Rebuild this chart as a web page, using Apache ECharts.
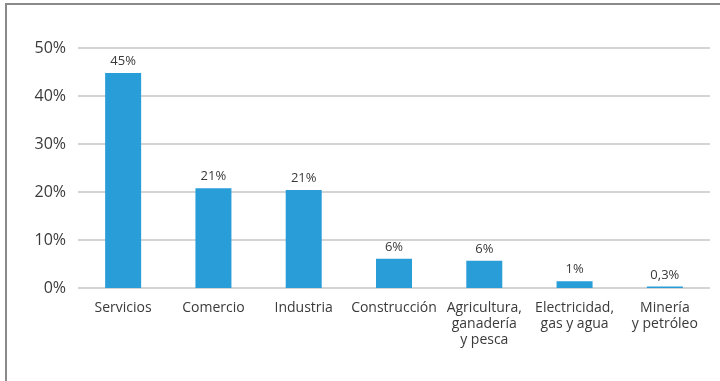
<!DOCTYPE html>
<html>
<head>
<meta charset="utf-8">
<script src="https://cdn.jsdelivr.net/npm/echarts@6/dist/echarts.min.js"></script>
<style>
  html, body { margin: 0; padding: 0; background: #fff; }
  #chart { width: 720px; height: 381px; }
</style>
</head>
<body>
<div id="chart"></div>
<script>
// sectores
var categories = ['Servicios', 'Comercio', 'Industria', 'Construcción',
  'Agricultura,\nganadería\ny pesca', 'Electricidad,\ngas y agua', 'Minería\ny petróleo'];
// valores (%)
var values = [44.8, 20.8, 20.4, 6.1, 5.7, 1.4, 0.3];
// etiquetas de cada barra
var valueLabels = ['45%', '21%', '21%', '6%', '6%', '1%', '0,3%'];
var yTicks = [0, 10, 20, 30, 40, 50];

var font = '"Open Sans", "DejaVu Sans", sans-serif';
var chart = echarts.init(document.getElementById('chart'));

chart.setOption({
  animation: false,
  backgroundColor: '#fff',
  grid: { left: 78, right: 10, top: 48, bottom: 93 },
  graphic: [
    { type: 'line', shape: { x1: 5, y1: 4, x2: 720, y2: 4 }, style: { stroke: '#8a8a8a', lineWidth: 2 } },
    { type: 'line', shape: { x1: 6, y1: 4, x2: 6, y2: 381 }, style: { stroke: '#8a8a8a', lineWidth: 2 } }
  ],
  xAxis: {
    type: 'category',
    data: categories,
    axisLine: { show: false },
    axisTick: { show: false },
    axisLabel: { color: '#3a3a3a', fontFamily: font, fontSize: 14, lineHeight: 16, margin: 12, interval: 0 }
  },
  yAxis: {
    type: 'value',
    min: yTicks[0],
    max: yTicks[yTicks.length - 1],
    interval: 10,
    axisLine: { show: false },
    axisTick: { show: false },
    splitLine: { lineStyle: { color: '#c6c6c6', width: 1.5 } },
    axisLabel: { color: '#3a3a3a', fontFamily: font, fontSize: 16, margin: 12, formatter: '{value}%' }
  },
  series: [{
    type: 'bar',
    data: values,
    barWidth: 36,
    itemStyle: { color: '#289dd8' },
    label: {
      show: true,
      position: 'top',
      distance: 5,
      color: '#3a3a3a',
      fontFamily: font,
      fontSize: 13,
      formatter: function (p) { return valueLabels[p.dataIndex]; }
    }
  }]
});
</script>
</body>
</html>
